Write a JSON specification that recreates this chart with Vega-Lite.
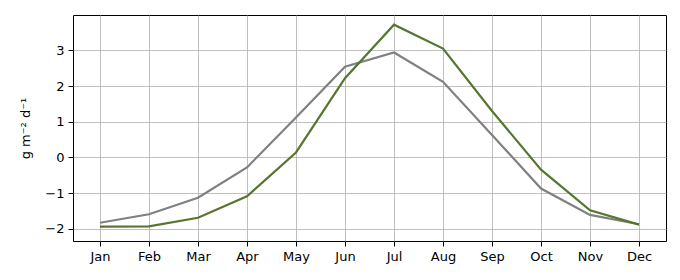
{
  "$schema": "https://vega.github.io/schema/vega-lite/v6.json",
  "width": 593,
  "height": 226,
  "autosize": {"type": "none"},
  "padding": {"left": 73, "top": 15, "right": 14, "bottom": 39},
  "background": "white",
  "config": {
    "view": {"stroke": "black", "strokeWidth": 1},
    "font": "DejaVu Sans",
    "axis": {
      "domain": false,
      "grid": true,
      "gridColor": "#b0b0b0",
      "gridWidth": 0.8,
      "tickColor": "black",
      "tickSize": 5,
      "tickWidth": 1,
      "labelFont": "DejaVu Sans",
      "labelFontSize": 13,
      "labelColor": "black",
      "titleFont": "DejaVu Sans",
      "titleFontSize": 13,
      "titleFontWeight": "normal",
      "titleColor": "black",
      "labelPadding": 4
    }
  },
  "data": {
    "values": [
      {"m": 1, "s": "a", "v": -1.83}, {"m": 2, "s": "a", "v": -1.59}, {"m": 3, "s": "a", "v": -1.13},
      {"m": 4, "s": "a", "v": -0.28}, {"m": 5, "s": "a", "v": 1.12}, {"m": 6, "s": "a", "v": 2.54},
      {"m": 7, "s": "a", "v": 2.94}, {"m": 8, "s": "a", "v": 2.12}, {"m": 9, "s": "a", "v": 0.63},
      {"m": 10, "s": "a", "v": -0.87}, {"m": 11, "s": "a", "v": -1.61}, {"m": 12, "s": "a", "v": -1.87},
      {"m": 1, "s": "b", "v": -1.94}, {"m": 2, "s": "b", "v": -1.93}, {"m": 3, "s": "b", "v": -1.69},
      {"m": 4, "s": "b", "v": -1.09}, {"m": 5, "s": "b", "v": 0.14}, {"m": 6, "s": "b", "v": 2.22},
      {"m": 7, "s": "b", "v": 3.72}, {"m": 8, "s": "b", "v": 3.05}, {"m": 9, "s": "b", "v": 1.3},
      {"m": 10, "s": "b", "v": -0.34}, {"m": 11, "s": "b", "v": -1.48}, {"m": 12, "s": "b", "v": -1.88}
    ]
  },
  "mark": {"type": "line", "strokeWidth": 2.2},
  "encoding": {
    "x": {
      "field": "m", "type": "quantitative",
      "scale": {"domain": [0.45, 12.55], "nice": false, "zero": false},
      "axis": {
        "values": [1,2,3,4,5,6,7,8,9,10,11,12],
        "title": null,
        "labelExpr": "['Jan','Feb','Mar','Apr','May','Jun','Jul','Aug','Sep','Oct','Nov','Dec'][datum.value-1]",
        "labelFlush": false
      }
    },
    "y": {
      "field": "v", "type": "quantitative",
      "scale": {"domain": [-2.34, 3.99], "nice": false, "zero": false},
      "axis": {
        "values": [-2,-1,0,1,2,3],
        "title": "g m⁻² d⁻¹",
        "titlePadding": 12,
        "labelExpr": "replace(format(datum.value, 'd'), '-', '−')"
      }
    },
    "color": {
      "field": "s", "type": "nominal",
      "scale": {"domain": ["a", "b"], "range": ["#808080", "#587530"]},
      "legend": null
    },
    "order": {"field": "m"}
  }
}
